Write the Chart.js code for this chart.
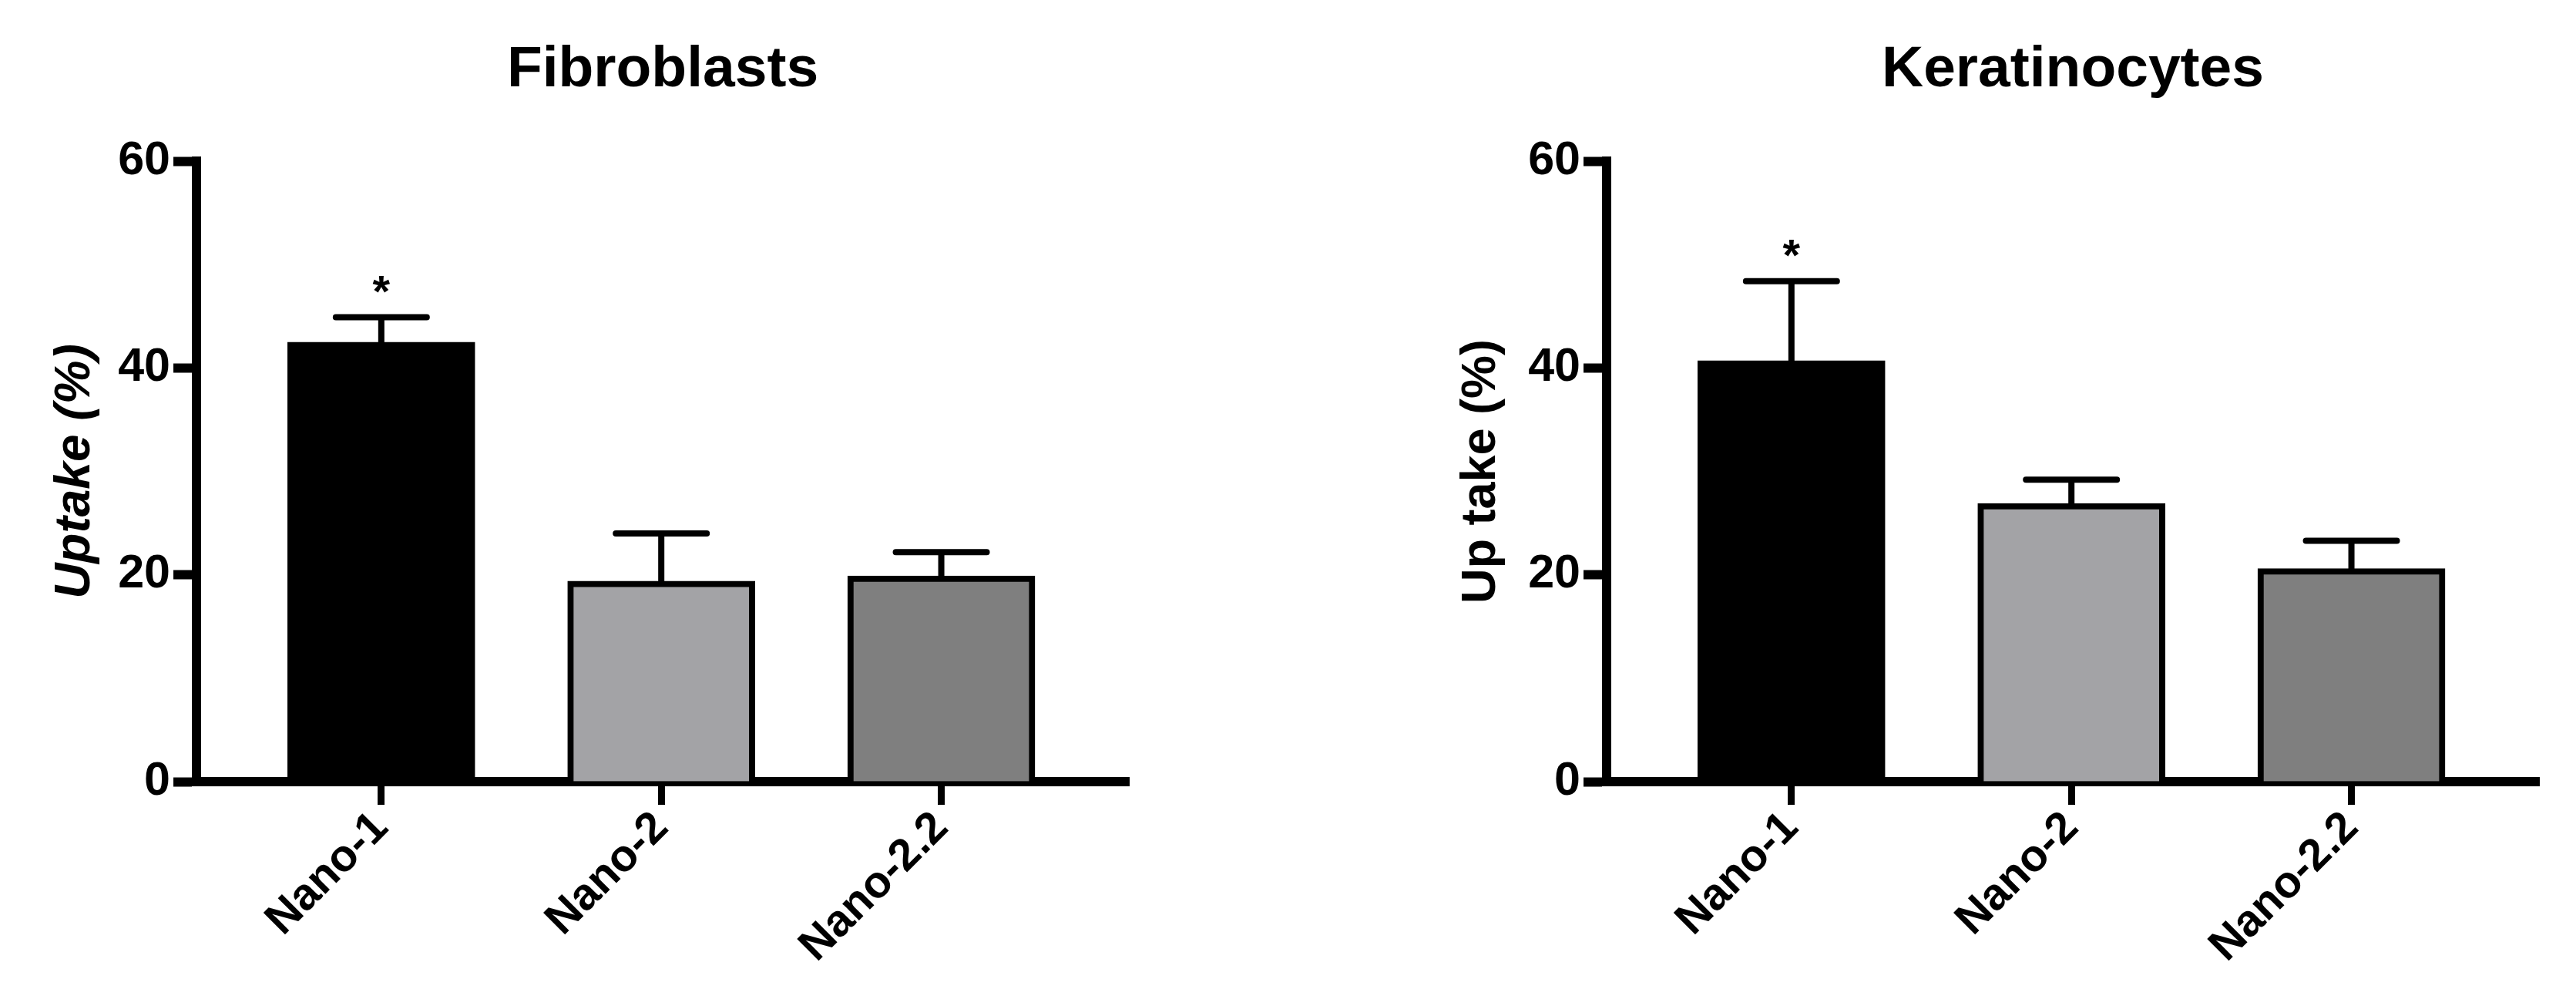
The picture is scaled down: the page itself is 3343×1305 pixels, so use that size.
<!DOCTYPE html>
<html>
<head>
<meta charset="utf-8">
<title>Uptake</title>
<script src="https://cdn.jsdelivr.net/npm/chart.js@4.4.1/dist/chart.umd.min.js"></script>
<style>
  body { margin: 0; background: #ffffff; }
  .panel { position: absolute; top: 0; height: 1305px; }
</style>
</head>
<body>
<div class="panel" style="left:0;width:1672px"><canvas id="fibroChart" width="1672" height="1305"></canvas></div>
<div class="panel" style="left:1672px;width:1671px"><canvas id="keratChart" width="1671" height="1305"></canvas></div>
<script>
const categories = ["Nano-1", "Nano-2", "Nano-2.2"];

const fibroMeans = [42.5, 19.4, 19.9];
const fibroSD = [2.4, 4.6, 2.3];
const fibroMarks = ["*", "", ""];

const keratMeans = [40.7, 26.9, 20.6];
const keratSD = [7.7, 2.3, 2.7];
const keratMarks = ["*", "", ""];

const yTicks = [0, 20, 40, 60];

const FONT = "'Liberation Sans', Arial, Helvetica, sans-serif";
const barColors = ["#000000", "#a3a3a6", "#7f7f7f"];

// mean + SD whiskers (upper only) and significance stars
const errorBars = {
  id: "errorBars",
  afterDatasetsDraw(chart, args, opts) {
    const ctx = chart.ctx;
    const y = chart.scales.y;
    const meta = chart.getDatasetMeta(0);
    ctx.save();
    ctx.strokeStyle = "#000";
    ctx.fillStyle = "#000";
    ctx.lineWidth = 8;
    ctx.lineCap = "round";
    meta.data.forEach((bar, i) => {
      const top = y.getPixelForValue(opts.means[i] + opts.sd[i]);
      ctx.beginPath();
      ctx.moveTo(bar.x, bar.y);
      ctx.lineTo(bar.x, top);
      ctx.moveTo(bar.x - 59, top);
      ctx.lineTo(bar.x + 59, top);
      ctx.stroke();
      if (opts.marks[i]) {
        ctx.font = "bold 58px " + FONT;
        ctx.textAlign = "center";
        ctx.textBaseline = "alphabetic";
        ctx.fillText(opts.marks[i], bar.x, top - 14);
      }
    });
    ctx.restore();
  },
};

function renderChart(chartId, title, yLabel, italic, means, sd, marks, pad, titlePad) {
  const ctx = document.getElementById(chartId).getContext("2d");
  new Chart(ctx, {
    type: "bar",
    data: {
      datasets: [
        {
          data: means.map((v, i) => ({ x: i, y: v })),
          backgroundColor: barColors,
          borderColor: "#000000",
          borderWidth: 8,
          barThickness: 243,
        },
      ],
    },
    plugins: [errorBars],
    options: {
      responsive: false,
      animation: false,
      layout: { padding: { top: 46, bottom: 0, left: pad.left, right: pad.right } },
      plugins: {
        legend: { display: false },
        tooltip: { enabled: false },
        title: {
          display: true,
          text: title,
          fullSize: false,
          color: "#000",
          font: { family: FONT, size: 75, weight: "bold" },
          padding: { top: 0, bottom: 73 },
        },
        errorBars: { means: means, sd: sd, marks: marks },
      },
      scales: {
        x: {
          type: "linear",
          offset: false,
          min: -0.66,
          max: 2.67,
          afterBuildTicks: (s) => {
            s.ticks = categories.map((c, i) => ({ value: i }));
          },
          afterFit: (s) => {
            s.height = 291;
          },
          ticks: {
            callback: (v) => categories[v],
            autoSkip: false,
            minRotation: 45,
            maxRotation: 45,
            padding: -4,
            color: "#000",
            font: { family: FONT, size: 58, weight: "bold" },
          },
          grid: {
            offset: false,
            drawOnChartArea: false,
            tickLength: 30,
            tickWidth: 9,
            tickColor: "#000",
          },
          border: { display: true, width: 12, color: "#000" },
        },
        y: {
          min: 0,
          max: 60,
          afterBuildTicks: (s) => {
            s.ticks = yTicks.map((v) => ({ value: v }));
          },
          afterFit: (s) => {
            s.width = 255;
          },
          ticks: {
            padding: 4,
            color: "#000",
            font: { family: FONT, size: 61, weight: "bold" },
          },
          grid: {
            drawOnChartArea: false,
            tickLength: 30,
            tickWidth: 12,
            tickColor: "#000",
          },
          border: { display: true, width: 12, color: "#000" },
          title: {
            display: true,
            text: yLabel,
            color: "#000",
            font: { family: FONT, size: italic ? 64 : 63, weight: "bold", style: italic ? "italic" : "normal" },
            padding: { top: titlePad, bottom: 0 },
          },
        },
      },
    },
  });
}

renderChart("fibroChart", "Fibroblasts", "Uptake (%)", true,
  fibroMeans, fibroSD, fibroMarks, { left: 0, right: 207 }, 60);
renderChart("keratChart", "Keratinocytes", "Up take (%)", false,
  keratMeans, keratSD, keratMarks, { left: 158, right: 48 }, 55);
</script>
</body>
</html>
